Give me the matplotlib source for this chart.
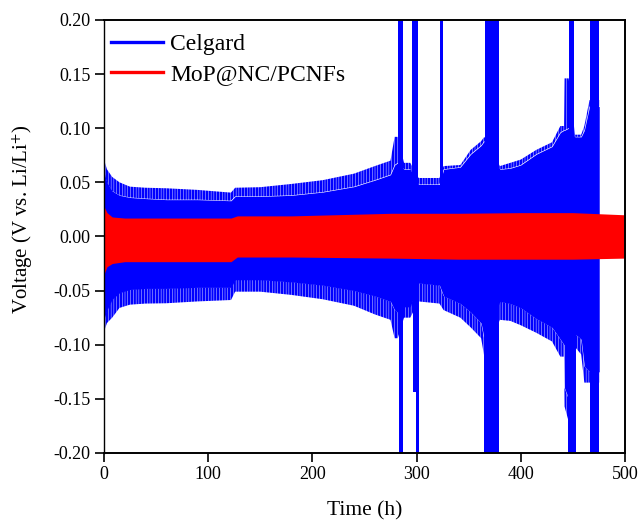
import matplotlib.pyplot as plt
from matplotlib.lines import Line2D

plt.rcParams['font.family'] = ['Liberation Serif', 'DejaVu Serif']
plt.rcParams['mathtext.fontset'] = 'stix'
plt.rcParams['hatch.linewidth'] = 1.7

# Celgard envelope (time in h, voltage in V)
t_blue = [0.5, 3, 8, 15, 25, 40, 60, 90, 122, 126, 150, 180, 210, 240, 260, 275,
          279, 282, 288, 294, 302, 322, 326, 342, 352, 362, 365, 380, 390, 400,
          415, 430, 438, 441.5, 442, 446, 452, 458, 461, 466, 475.3]
blue_top_tip = [0.070, 0.062, 0.055, 0.050, 0.046, 0.045, 0.0445, 0.043, 0.0405, 0.045,
                0.0455, 0.0485, 0.052, 0.058, 0.065, 0.070, 0.092, 0.092, 0.068, 0.068,
                0.054, 0.054, 0.065, 0.066, 0.080, 0.088, 0.092, 0.065, 0.068, 0.071,
                0.080, 0.087, 0.102, 0.102, 0.146, 0.146, 0.094, 0.094, 0.102, 0.126, 0.126]
blue_top_body = [0.058, 0.050, 0.042, 0.038, 0.036, 0.035, 0.034, 0.034, 0.033, 0.037,
                 0.037, 0.038, 0.041, 0.046, 0.052, 0.057, 0.066, 0.068, 0.062, 0.062,
                 0.048, 0.048, 0.062, 0.064, 0.076, 0.084, 0.088, 0.062, 0.063, 0.066,
                 0.076, 0.083, 0.096, 0.098, 0.098, 0.100, 0.092, 0.092, 0.098, 0.120, 0.120]
blue_bot_body = [-0.075, -0.068, -0.058, -0.052, -0.049, -0.048, -0.048, -0.047, -0.047, -0.040,
                 -0.040, -0.042, -0.045, -0.050, -0.055, -0.060, -0.068, -0.070, -0.065, -0.065,
                 -0.043, -0.045, -0.055, -0.062, -0.070, -0.080, -0.095, -0.060, -0.062, -0.066,
                 -0.076, -0.084, -0.095, -0.100, -0.140, -0.150, -0.090, -0.095, -0.120, -0.125, -0.125]
blue_bot_tip = [-0.087, -0.080, -0.075, -0.066, -0.063, -0.062, -0.0617, -0.060, -0.0587, -0.051,
                -0.051, -0.054, -0.058, -0.064, -0.072, -0.077, -0.094, -0.094, -0.075, -0.075,
                -0.060, -0.062, -0.068, -0.075, -0.084, -0.094, -0.111, -0.077, -0.078, -0.082,
                -0.089, -0.097, -0.111, -0.111, -0.157, -0.171, -0.102, -0.109, -0.135, -0.135, -0.135]

# short-circuit spikes of Celgard that leave the axis range
spike_up_start = [282.6, 295.5, 322.8, 366.0, 446.3, 466.7]
spike_up_end = [287.0, 301.0, 325.8, 379.0, 451.3, 475.3]
spike_dn_start = [282.8, 296.2, 299.8, 365.0, 445.6, 466.7]
spike_dn_end = [286.8, 299.8, 302.5, 379.0, 453.0, 475.3]
spike_dn_low = [-0.25, -0.144, -0.25, -0.25, -0.25, -0.25]

# MoP@NC/PCNFs envelope
t_red = [0.5, 3, 8, 20, 122, 128, 180, 276, 340, 400, 450, 500]
red_top = [0.027, 0.022, 0.018, 0.017, 0.017, 0.019, 0.019, 0.0214, 0.0214, 0.022, 0.022, 0.020]
red_bot = [-0.034, -0.028, -0.025, -0.0233, -0.0233, -0.019, -0.019, -0.020, -0.021, -0.021, -0.021, -0.020]

fig = plt.figure(figsize=(6.41, 5.24), dpi=100)
ax = fig.add_axes([0.162, 0.1355, 0.813, 0.8265])

blue = '#0000ff'
red = '#ff0000'

ax.fill_between(t_blue, blue_bot_body, blue_top_body, color=blue, lw=0)
ax.fill_between(t_blue, blue_top_body, blue_top_tip, facecolor='none', edgecolor=blue,
                hatch='||||||', lw=0)
ax.fill_between(t_blue, blue_bot_tip, blue_bot_body, facecolor='none', edgecolor=blue,
                hatch='||||||', lw=0)

for s, e in zip(spike_up_start, spike_up_end):
    ax.bar(s, 0.25, width=e - s, bottom=0, align='edge', color=blue, lw=0)
for s, e, lo in zip(spike_dn_start, spike_dn_end, spike_dn_low):
    ax.bar(s, lo, width=e - s, bottom=0, align='edge', color=blue, lw=0)

ax.fill_between(t_red, red_bot, red_top, color=red, lw=0)

ax.set_xlim(0, 500)
ax.set_ylim(-0.2, 0.2)
ax.set_xticks([0, 100, 200, 300, 400, 500])
ax.set_yticks([-0.2, -0.15, -0.1, -0.05, 0, 0.05, 0.1, 0.15, 0.2])
ax.set_yticklabels(['%.2f' % v for v in ax.get_yticks()])
ax.tick_params(direction='out', length=6.5, width=1.2, labelsize=13, pad=3,
               top=False, right=False)
for sp in ax.spines.values():
    sp.set_linewidth(1.4)
ax.spines['left'].set_linewidth(1.0)

ax.set_xlabel('Time (h)', fontsize=15.5)
ax.xaxis.set_label_coords(0.5, -0.111)
ax.set_ylabel('Voltage (V vs. Li/Li$^{+}$)', fontsize=15)
ax.yaxis.set_label_coords(-0.132, 0.54)

handles = [Line2D([], [], color=blue, lw=2.4), Line2D([], [], color=red, lw=2.4)]
ax.legend(handles, ['Celgard', 'MoP@NC/PCNFs'], loc='upper left',
          bbox_to_anchor=(0, 0.985), frameon=False,
          fontsize=17, handlelength=2.2, handletextpad=0.3, labelspacing=0.36,
          borderaxespad=0.1, borderpad=0.2)

fig.savefig('out.png', dpi=100)
